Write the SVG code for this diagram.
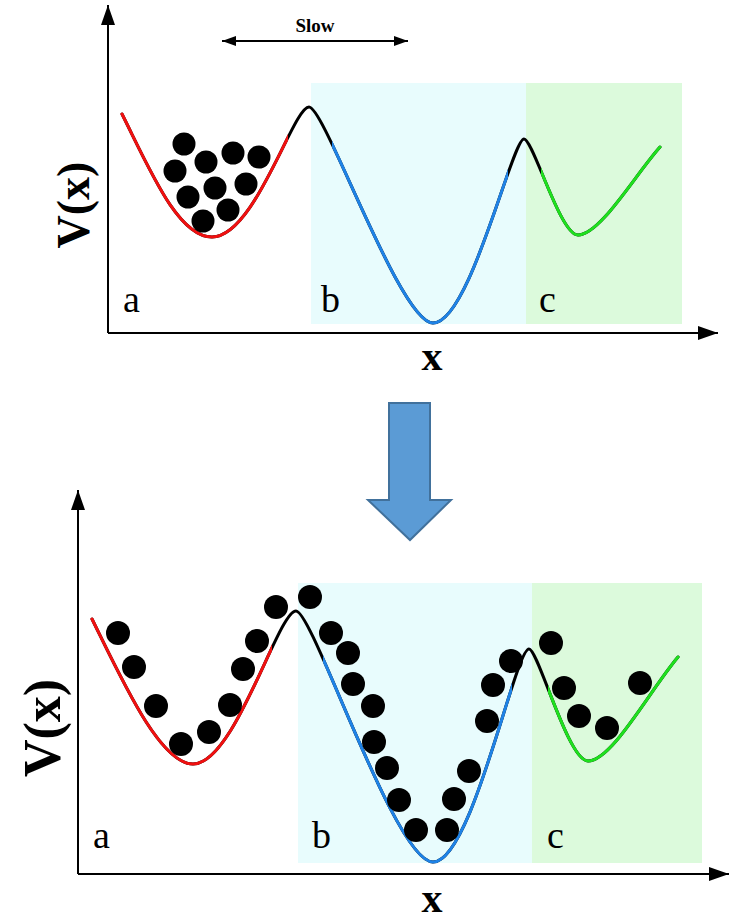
<svg xmlns="http://www.w3.org/2000/svg" width="730" height="921" viewBox="0 0 730 921">
<style>
.axis{stroke:#000;stroke-width:2;fill:none}
.curve{fill:none;stroke-width:3;stroke-linecap:round}
.ball{fill:#000}
.lbl{font-family:"Liberation Serif","Times New Roman",serif;font-size:38px;fill:#000}
.big{font-family:"Liberation Serif","Times New Roman",serif;font-weight:bold;fill:#000}
</style>
<defs>
<marker id="ah" viewBox="0 0 20 14" refX="20" refY="7" markerWidth="20" markerHeight="14" markerUnits="userSpaceOnUse" orient="auto">
<path d="M0,0 L20,7 L0,14 Z" fill="#000"/>
</marker>
<marker id="sa" viewBox="0 0 14 10" refX="14" refY="5" markerWidth="14" markerHeight="10" markerUnits="userSpaceOnUse" orient="auto-start-reverse">
<path d="M0,0 L14,5 L0,10 Z" fill="#000"/>
</marker>
<clipPath id="tRed"><rect x="0" y="0" width="288" height="400"/></clipPath>
<clipPath id="tBlue"><rect x="332" y="0" width="176" height="400"/></clipPath>
<clipPath id="tGreen"><rect x="541" y="0" width="200" height="400"/></clipPath>
<clipPath id="bRed"><rect x="0" y="450" width="272" height="471"/></clipPath>
<clipPath id="bBlue"><rect x="323" y="450" width="189" height="471"/></clipPath>
<clipPath id="bGreen"><rect x="548" y="450" width="200" height="471"/></clipPath>
<path id="tc" d="M122,114 C150,170 178,237 212,237 C255,237 293,107 309,107 C325,107 400,323 433,323 C470,323 512,139 524,139 C533,139 560,235 578,235 C600,235 635,175 660,147"/>
<path id="bc" d="M92,619 C122,680 160,764 193,764 C235,764 278,611 296,611 C313,611 395,862 433,862 C472,862 515,649 529,649 C538,649 568,761 588,761 C612,761 650,690 678,657"/>
</defs>

<g id="top-panel">
<g id="top-regions">
<rect x="311" y="83" width="215" height="241" fill="#e8fcfd"/>
<rect x="526" y="83" width="156" height="241" fill="#dcfadc"/>
</g>
<g id="top-axes">
<line class="axis" x1="108" y1="333" x2="108" y2="5" marker-end="url(#ah)"/>
<line class="axis" x1="108" y1="333" x2="718" y2="333" marker-end="url(#ah)"/>
<text class="big" font-size="46" transform="translate(89,205) rotate(-90)" text-anchor="middle">V(x)</text>
<text class="big" font-size="42" x="432" y="370" text-anchor="middle">x</text>
</g>
<g id="top-curve">
<use href="#tc" class="curve" stroke="#000"/>
<use href="#tc" class="curve" stroke="#f01010" clip-path="url(#tRed)"/>
<use href="#tc" class="curve" stroke="#1e82e6" clip-path="url(#tBlue)"/>
<use href="#tc" class="curve" stroke="#1ee01e" clip-path="url(#tGreen)"/>
</g>
<g id="top-labels">
<text class="lbl" x="123" y="312">a</text>
<text class="lbl" x="321" y="312">b</text>
<text class="lbl" x="539" y="312">c</text>
</g>
<g id="slow">
<line x1="222" y1="41" x2="408" y2="41" stroke="#000" stroke-width="1.8" marker-start="url(#sa)" marker-end="url(#sa)"/>
<text x="315" y="32" text-anchor="middle" font-family="'Liberation Serif','Times New Roman',serif" font-weight="bold" font-size="19">Slow</text>
</g>
<g id="top-balls">
<circle class="ball" cx="184" cy="144" r="11.5"/>
<circle class="ball" cx="175" cy="171" r="11.5"/>
<circle class="ball" cx="206" cy="162" r="11.5"/>
<circle class="ball" cx="233" cy="153" r="11.5"/>
<circle class="ball" cx="259" cy="157" r="11.5"/>
<circle class="ball" cx="215" cy="188" r="11.5"/>
<circle class="ball" cx="246" cy="184" r="11.5"/>
<circle class="ball" cx="188" cy="197" r="11.5"/>
<circle class="ball" cx="228" cy="210" r="11.5"/>
<circle class="ball" cx="203" cy="221" r="11.5"/>
</g>
</g>

<g id="transition-arrow">
<path d="M389,403 L430,403 L430,500 L451,500 L410,540 L368,500 L389,500 Z" fill="#5b9bd5" stroke="#41719c" stroke-width="2"/>
</g>

<g id="bottom-panel">
<g id="bottom-regions">
<rect x="298" y="583" width="234" height="280" fill="#e8fcfd"/>
<rect x="532" y="583" width="170" height="280" fill="#dcfadc"/>
</g>
<g id="bottom-axes">
<line class="axis" x1="78" y1="874" x2="78" y2="490" marker-end="url(#ah)"/>
<line class="axis" x1="78" y1="874" x2="729" y2="874" marker-end="url(#ah)"/>
<text class="big" font-size="52" transform="translate(60,728) rotate(-90)" text-anchor="middle">V(x)</text>
<text class="big" font-size="42" x="432" y="912" text-anchor="middle">x</text>
</g>
<g id="bottom-curve">
<use href="#bc" class="curve" stroke="#000"/>
<use href="#bc" class="curve" stroke="#f01010" clip-path="url(#bRed)"/>
<use href="#bc" class="curve" stroke="#1e82e6" clip-path="url(#bBlue)"/>
<use href="#bc" class="curve" stroke="#1ee01e" clip-path="url(#bGreen)"/>
</g>
<g id="bottom-labels">
<text class="lbl" x="93" y="848">a</text>
<text class="lbl" x="312" y="848">b</text>
<text class="lbl" x="547" y="848">c</text>
</g>
<g id="bottom-balls">
<circle class="ball" cx="118" cy="633" r="12"/>
<circle class="ball" cx="134" cy="667" r="12"/>
<circle class="ball" cx="156" cy="706" r="12"/>
<circle class="ball" cx="181" cy="744" r="12"/>
<circle class="ball" cx="209" cy="732" r="12"/>
<circle class="ball" cx="230" cy="705" r="12"/>
<circle class="ball" cx="243" cy="669" r="12"/>
<circle class="ball" cx="257" cy="641" r="12"/>
<circle class="ball" cx="276" cy="607" r="12"/>
<circle class="ball" cx="310" cy="597" r="12"/>
<circle class="ball" cx="331" cy="633" r="12"/>
<circle class="ball" cx="348" cy="653" r="12"/>
<circle class="ball" cx="353" cy="684" r="12"/>
<circle class="ball" cx="373" cy="706" r="12"/>
<circle class="ball" cx="374" cy="742" r="12"/>
<circle class="ball" cx="387" cy="768" r="12"/>
<circle class="ball" cx="399" cy="800" r="12"/>
<circle class="ball" cx="416" cy="830" r="12"/>
<circle class="ball" cx="447" cy="830" r="12"/>
<circle class="ball" cx="454" cy="799" r="12"/>
<circle class="ball" cx="469" cy="771" r="12"/>
<circle class="ball" cx="487" cy="721" r="12"/>
<circle class="ball" cx="493" cy="685" r="12"/>
<circle class="ball" cx="511" cy="661" r="12"/>
<circle class="ball" cx="551" cy="643" r="12"/>
<circle class="ball" cx="564" cy="688" r="12"/>
<circle class="ball" cx="579" cy="716" r="12"/>
<circle class="ball" cx="607" cy="728" r="12"/>
<circle class="ball" cx="640" cy="683" r="12"/>
</g>
</g>
</svg>
